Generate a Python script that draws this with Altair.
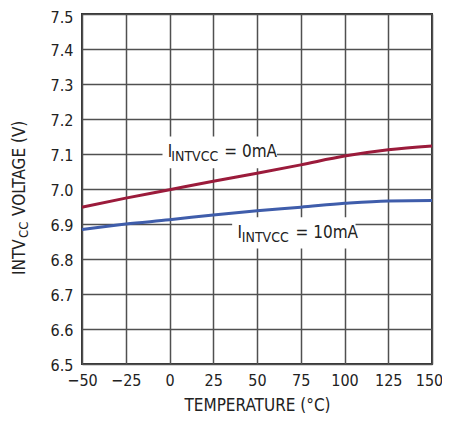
import altair as alt
import pandas as pd

FONT = "Liberation Sans Narrow, DejaVu Sans Condensed, Roboto Condensed, Liberation Sans, Arial"

temps = [-50, -25, 0, 25, 50, 75, 100, 125, 150]
v_0ma = [6.948, 6.974, 6.998, 7.022, 7.045, 7.069, 7.094, 7.112, 7.123]
v_10ma = [6.884, 6.900, 6.912, 6.926, 6.938, 6.948, 6.959, 6.966, 6.967]
series_names = ["0mA", "10mA"]
series_colors = ["#9B1B3B", "#3F5DAB"]

x_ticks = [-50, -25, 0, 25, 50, 75, 100, 125, 150]
y_ticks = [6.5, 6.6, 6.7, 6.8, 6.9, 7.0, 7.1, 7.2, 7.3, 7.4, 7.5]

# annotation label pieces (text, temperature, voltage, font size)
ann_text = ["I", "INTVCC", "= 0mA", "I", "INTVCC", "= 10mA"]
ann_x = [-1.0, 1.0, 31.3, 38.8, 41.3, 72.0]
ann_y = [7.091, 7.079, 7.091, 6.861, 6.849, 6.861]
ann_size = [17, 14, 17, 17, 14, 17]

# white label backgrounds
box_x = [-4.0, 35.8]
box_x2 = [61.4, 106.3]
box_y = [7.150, 6.919]
box_y2 = [7.059, 6.830]

rows = []
for t, a, b in zip(temps, v_0ma, v_10ma):
    rows.append({"t": t, "v": a, "s": series_names[0]})
    rows.append({"t": t, "v": b, "s": series_names[1]})
df = pd.DataFrame(rows)
ann = pd.DataFrame({"text": ann_text, "t": ann_x, "v": ann_y, "size": ann_size})
boxes = pd.DataFrame({"t": box_x, "t2": box_x2, "v": box_y, "v2": box_y2})

xs = alt.Scale(domain=[-50, 150], nice=False, zero=False)
ys = alt.Scale(domain=[6.5, 7.5], nice=False, zero=False)

xaxis = alt.Axis(values=x_ticks, title="TEMPERATURE (°C)", labelPadding=8, titlePadding=9,
                 ticks=False, domain=False, labelOverlap=False, labelFlush=False,
                 labelOffset={"condition": {"test": "datum.value == 150", "value": -3}, "value": 0})
yaxis = alt.Axis(values=y_ticks, format=".1f", title=None, labelPadding=9,
                 labelOffset={"condition": {"test": "datum.value >= 7.45", "value": 3}, "value": 1},
                 ticks=False, domain=False, labelOverlap=False, labelFlush=False)

X = alt.X("t:Q", scale=xs, axis=xaxis)
Y = alt.Y("v:Q", scale=ys, axis=yaxis)

rects = alt.Chart(boxes).mark_rect(color="white").encode(x=X, x2="t2:Q", y=Y, y2="v2:Q")

lines = alt.Chart(df).mark_line(strokeWidth=3, interpolate="monotone").encode(
    x=X, y=Y,
    color=alt.Color("s:N", scale=alt.Scale(domain=series_names, range=series_colors), legend=None),
)

labels = alt.Chart(ann).mark_text(align="left", baseline="alphabetic", font=FONT, color="#222").encode(
    x=X, y=Y, text="text:N", size=alt.Size("size:Q", scale=None, legend=None),
)

# rotated y-axis title with subscript
yt_text = ["INTV", "CC", "VOLTAGE (V)"]
yt_y = [261, 224, 202]
yt_x = [-57, -54, -57]
yt_size = [17, 13, 17]
ytitle = alt.layer(*[
    alt.Chart(pd.DataFrame({"text": [t]})).mark_text(
        angle=270, align="left", baseline="alphabetic", font=FONT, fontSize=s, color="#222"
    ).encode(x=alt.value(xx), y=alt.value(yy), text="text:N")
    for t, yy, xx, s in zip(yt_text, yt_y, yt_x, yt_size)
])

chart = alt.layer(rects, lines, labels, ytitle).properties(
    width=350, height=350,
    autosize=alt.AutoSizeParams(type="none"),
    padding={"left": 74, "top": 6, "right": 10, "bottom": 51},
).configure_view(stroke="#333", strokeWidth=2).configure_axis(
    labelFontSize=16, titleFontSize=17, titleFontWeight="normal",
    labelColor="#222", titleColor="#222", labelFont=FONT, titleFont=FONT,
    gridColor="#505050", gridWidth=1.5, gridOpacity=1,
)

chart.save("out.html", embed_options={"renderer": "svg", "actions": False})
